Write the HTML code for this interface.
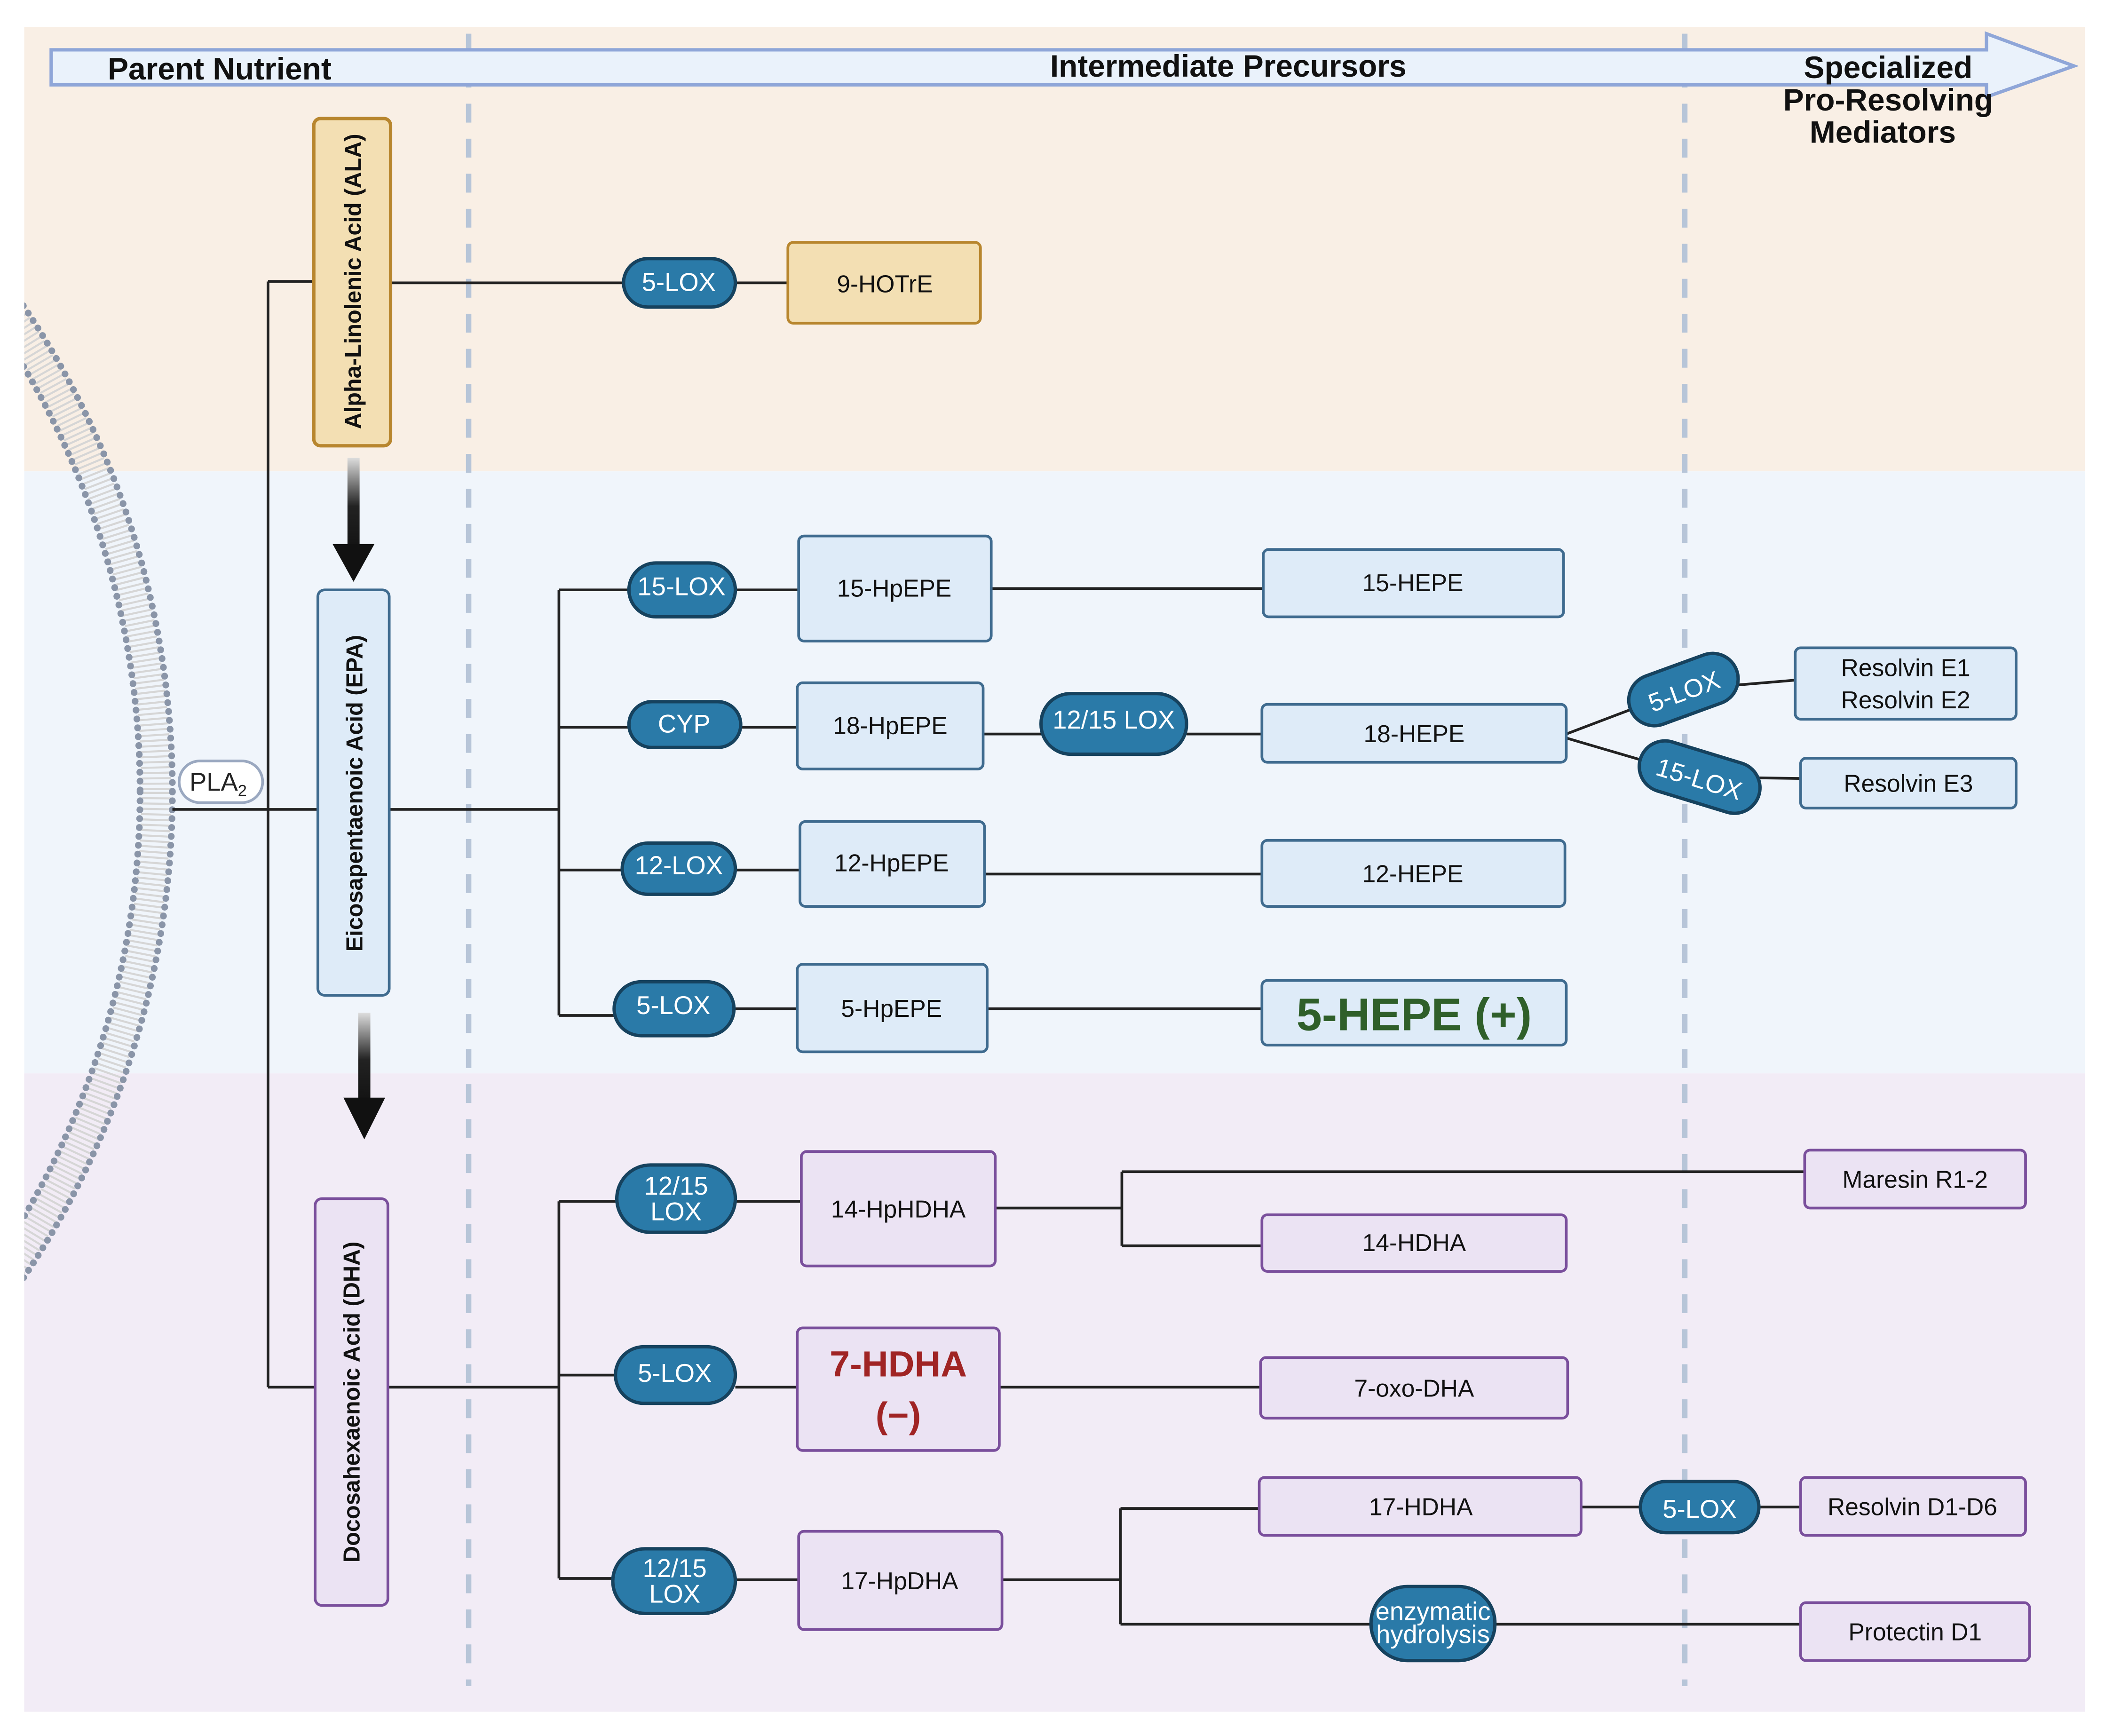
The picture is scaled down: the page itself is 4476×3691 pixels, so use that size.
<!DOCTYPE html>
<html><head><meta charset="utf-8"><style>
html,body{margin:0;padding:0;background:#fff}
svg{display:block}
text{font-family:"Liberation Sans",sans-serif}
.p{fill:#2a7aa8;stroke:#16425e;stroke-width:2.5}
.pt{fill:#fff;font-size:19px;text-anchor:middle}
.bb{fill:#deebf8;stroke:#3f6b8f;stroke-width:2}
.pb{fill:#ebe3f3;stroke:#7a4f9c;stroke-width:2}
.t{fill:#111;font-size:18px;text-anchor:middle}
.l{stroke:#222;stroke-width:2;fill:none}
.h{font-weight:bold;font-size:23px;fill:#111}
</style></head><body>
<svg width="4476" height="3691" viewBox="0 0 1563 1289" preserveAspectRatio="none" xmlns="http://www.w3.org/2000/svg">
<defs>
<clipPath id="c"><rect x="18" y="20" width="1530" height="1251"/></clipPath>
<linearGradient id="ar" x1="0" y1="0" x2="0" y2="1"><stop offset="0" stop-color="#ddd"/><stop offset="0.5" stop-color="#222"/><stop offset="1" stop-color="#111"/></linearGradient>
</defs>
<rect width="1563" height="1289" fill="#fff"/>
<rect x="18" y="20" width="1530" height="330" fill="#f9efe5"/>
<rect x="18" y="350" width="1530" height="447" fill="#f0f5fb"/>
<rect x="18" y="797" width="1530" height="474" fill="#f2ecf6"/>
<!-- membrane -->
<g clip-path="url(#c)">
<circle cx="-516" cy="588" r="632" fill="none" stroke="#d6d6d6" stroke-width="22" stroke-dasharray="1.5 2.5"/>
<circle cx="-516" cy="588" r="644" fill="none" stroke="#8a95a8" stroke-width="5" stroke-dasharray="0.1 6.5" stroke-linecap="round"/>
<circle cx="-516" cy="588" r="620" fill="none" stroke="#8a95a8" stroke-width="5" stroke-dasharray="0.1 6.5" stroke-linecap="round"/>
</g>
<!-- dashed -->
<line x1="348" y1="25" x2="348" y2="1252" stroke="#b7c5d8" stroke-width="4" stroke-dasharray="14 12"/>
<line x1="1251" y1="25" x2="1251" y2="1252" stroke="#b7c5d8" stroke-width="4" stroke-dasharray="14 12"/>
<!-- header arrow -->
<path d="M38 37 H1475 V25 L1540 49 L1475 72 V63 H38 Z" fill="#eaf2fb" stroke="#8fa6d8" stroke-width="2.5"/>
<text x="80" y="59" class="h">Parent Nutrient</text>
<text x="912" y="57" class="h" text-anchor="middle">Intermediate Precursors</text>
<text x="1402" y="58" class="h" text-anchor="middle">Specialized</text>
<text x="1402" y="82" class="h" text-anchor="middle">Pro-Resolving</text>
<text x="1398" y="106" class="h" text-anchor="middle">Mediators</text>
<!-- main connectors -->
<path class="l" d="M199 209 V1030 M199 209 H234 M199 1030 H234 M128 601 H237 M290 210 H463 M546 210 H585"/>
<path class="l" d="M289 601 H415 M415 438 V754 M415 438 H467 M546 438 H593 M736 437 H938 M415 540 H467 M550 540 H592 M730 545 H773 M881 545 H937 M415 646 H462 M546 646 H594 M731 649 H937 M415 754 H456 M545 749 H592 M733 749 H937"/>
<path class="l" d="M1163 545 L1250 512 L1333 505 M1163 548 L1262 577 L1337 578"/>
<path class="l" d="M288 1030 H415 M415 892 V1172 M415 892 H458 M546 892 H595 M739 897 H833 M833 870 V925 M833 870 H1340 M833 925 H937 M415 1021 H457 M546 1030 H592 M742 1030 H936 M415 1172 H455 M546 1173 H593 M744 1173 H832 M832 1120 V1206 M832 1120 H935 M1174 1119 H1337 M832 1206 H1337"/>
<!-- big arrows -->
<rect x="258" y="340" width="9" height="72" fill="url(#ar)"/>
<path d="M247 404 H278 L262.5 432 Z" fill="#111"/>
<rect x="266" y="752" width="9" height="70" fill="url(#ar)"/>
<path d="M255 815 H286 L270.5 846 Z" fill="#111"/>
<!-- PLA2 -->
<rect x="133" y="565" width="62" height="31" rx="15.5" fill="#fff" stroke="#9aa8c0" stroke-width="2"/>
<text x="162" y="587" font-size="19" fill="#222" text-anchor="middle">PLA<tspan font-size="12" dy="4">2</tspan></text>
<!-- parent boxes -->
<rect x="233" y="88" width="57" height="243" rx="5" fill="#f3dfb3" stroke="#b8862e" stroke-width="2.5"/>
<text transform="translate(268 209) rotate(-90)" font-size="17" font-weight="bold" text-anchor="middle" fill="#111">Alpha-Linolenic Acid (ALA)</text>
<rect x="236" y="438" width="53" height="301" rx="5" class="bb"/>
<text transform="translate(269 589) rotate(-90)" font-size="17" font-weight="bold" text-anchor="middle" fill="#111">Eicosapentaenoic Acid (EPA)</text>
<rect x="234" y="890" width="54" height="302" rx="5" class="pb"/>
<text transform="translate(267 1041) rotate(-90)" font-size="17" font-weight="bold" text-anchor="middle" fill="#111">Docosahexaenoic Acid (DHA)</text>
<!-- ALA row -->
<rect class="p" x="463" y="192" width="83" height="36" rx="18"/><text class="pt" x="504" y="216">5-LOX</text>
<rect x="585" y="180" width="143" height="60" rx="4" fill="#f3dfb3" stroke="#b8862e" stroke-width="2"/><text class="t" x="657" y="217">9-HOTrE</text>
<!-- EPA rows -->
<rect class="p" x="467" y="418" width="79" height="40" rx="20"/><text class="pt" x="506" y="442">15-LOX</text>
<rect class="bb" x="593" y="398" width="143" height="78" rx="4"/><text class="t" x="664" y="443">15-HpEPE</text>
<rect class="bb" x="938" y="408" width="223" height="50" rx="4"/><text class="t" x="1049" y="439">15-HEPE</text>
<rect class="p" x="467" y="521" width="83" height="34" rx="17"/><text class="pt" x="508" y="544">CYP</text>
<rect class="bb" x="592" y="507" width="138" height="64" rx="4"/><text class="t" x="661" y="545">18-HpEPE</text>
<rect class="p" x="773" y="515" width="108" height="45" rx="22"/><text class="pt" x="827" y="541">12/15 LOX</text>
<rect class="bb" x="937" y="523" width="226" height="43" rx="4"/><text class="t" x="1050" y="551">18-HEPE</text>
<rect class="p" x="462" y="626" width="84" height="38" rx="19"/><text class="pt" x="504" y="649">12-LOX</text>
<rect class="bb" x="594" y="610" width="137" height="63" rx="4"/><text class="t" x="662" y="647">12-HpEPE</text>
<rect class="bb" x="937" y="624" width="225" height="49" rx="4"/><text class="t" x="1049" y="655">12-HEPE</text>
<rect class="p" x="456" y="729" width="89" height="40" rx="20"/><text class="pt" x="500" y="753">5-LOX</text>
<rect class="bb" x="592" y="716" width="141" height="65" rx="4"/><text class="t" x="662" y="755">5-HpEPE</text>
<rect class="bb" x="937" y="728" width="226" height="48" rx="4"/><text x="1050" y="765" font-size="34" font-weight="bold" fill="#2f5f2a" text-anchor="middle">5-HEPE (+)</text>
<!-- SPM EPA -->
<g transform="translate(1250 512) rotate(-20)"><rect class="p" x="-42" y="-19" width="84" height="38" rx="19"/><text class="pt" x="0" y="8" font-size="23">5-LOX</text></g>
<g transform="translate(1262 577) rotate(17)"><rect class="p" x="-46" y="-19" width="92" height="38" rx="19"/><text class="pt" x="0" y="8" font-size="23">15-LOX</text></g>
<rect class="bb" x="1333" y="481" width="164" height="53" rx="4"/><text class="t" x="1415" y="502">Resolvin E1</text><text class="t" x="1415" y="526">Resolvin E2</text>
<rect class="bb" x="1337" y="563" width="160" height="37" rx="4"/><text class="t" x="1417" y="588">Resolvin E3</text>
<!-- DHA rows -->
<rect class="p" x="458" y="865" width="88" height="50" rx="25"/><text class="pt" x="502" y="887">12/15</text><text class="pt" x="502" y="906">LOX</text>
<rect class="pb" x="595" y="855" width="144" height="85" rx="4"/><text class="t" x="667" y="904">14-HpHDHA</text>
<rect class="pb" x="1340" y="854" width="164" height="43" rx="4"/><text class="t" x="1422" y="882">Maresin R1-2</text>
<rect class="pb" x="937" y="902" width="226" height="42" rx="4"/><text class="t" x="1050" y="929">14-HDHA</text>
<rect class="p" x="457" y="1000" width="89" height="42" rx="21"/><text class="pt" x="501" y="1026">5-LOX</text>
<rect class="pb" x="592" y="986" width="150" height="91" rx="4"/>
<text x="667" y="1022" font-size="27" font-weight="bold" fill="#a02424" text-anchor="middle">7-HDHA</text>
<text x="667" y="1060" font-size="27" font-weight="bold" fill="#a02424" text-anchor="middle">(−)</text>
<rect class="pb" x="936" y="1008" width="228" height="45" rx="4"/><text class="t" x="1050" y="1037">7-oxo-DHA</text>
<rect class="p" x="455" y="1150" width="91" height="48" rx="24"/><text class="pt" x="501" y="1171">12/15</text><text class="pt" x="501" y="1190">LOX</text>
<rect class="pb" x="593" y="1137" width="151" height="73" rx="4"/><text class="t" x="668" y="1180">17-HpDHA</text>
<rect class="pb" x="935" y="1097" width="239" height="43" rx="4"/><text class="t" x="1055" y="1125">17-HDHA</text>
<rect class="p" x="1218" y="1100" width="88" height="38" rx="19"/><text class="pt" x="1262" y="1127" font-size="23">5-LOX</text>
<rect class="pb" x="1337" y="1097" width="167" height="43" rx="4"/><text class="t" x="1420" y="1125">Resolvin D1-D6</text>
<rect class="p" x="1018" y="1178" width="92" height="55" rx="27"/><text class="pt" x="1064" y="1203" font-size="17">enzymatic</text><text class="pt" x="1064" y="1220" font-size="17">hydrolysis</text>
<rect class="pb" x="1337" y="1190" width="170" height="43" rx="4"/><text class="t" x="1422" y="1218">Protectin D1</text>
</svg>
</body></html>
